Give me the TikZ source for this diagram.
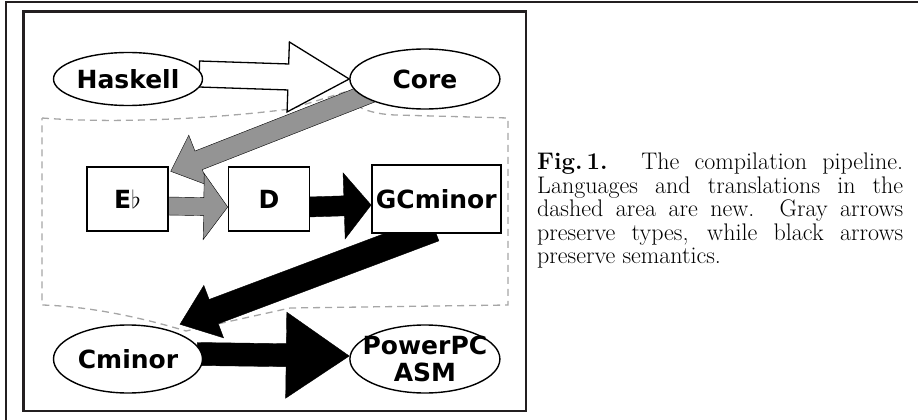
\documentclass[tikz,border=0pt]{standalone}
\usepackage{fontspec}
\usetikzlibrary{arrows.meta, positioning, calc, shapes.geometric}
\newfontfamily\labelfont{DejaVu Sans}
\definecolor{typegray}{gray}{0.58}
\definecolor{framegray}{HTML}{231F20}
\pgfdeclarelayer{background}
\pgfsetlayers{background,main}

% block arrow: [style]{start}{tip}{shaft half width}{head half width}{head length}
\newcommand{\blockarrow}[6][]{%
  \coordinate (ba-base) at ($(#3)!#6!(#2)$);
  \draw[#1] ($(#2)!#4!90:(#3)$) -- ($(ba-base)!#4!90:(#3)$)
    -- ($(ba-base)!#5!90:(#3)$) -- (#3)
    -- ($(ba-base)!#5!-90:(#3)$) -- ($(ba-base)!#4!-90:(#3)$)
    -- ($(#2)!#4!-90:(#3)$) -- cycle;
}
\newcommand{\captionsize}{\fontsize{24}{23.5}\selectfont}

\begin{document}
\begin{tikzpicture}[
  x=1pt, y=-1pt,
  lang/.style = {draw, ellipse, line width=1.4pt, fill=white, inner sep=0pt,
                 minimum width=149pt, align=center,
                 font=\labelfont\bfseries\fontsize{25}{27}\selectfont},
  ir/.style = {draw, rectangle, line width=1.4pt, fill=white, inner sep=0pt,
               minimum width=81pt, minimum height=64pt,
               font=\labelfont\bfseries\fontsize{25}{27}\selectfont},
  outline/.style = {draw, line width=1.3pt, fill=white},
  typed/.style = {fill=typegray},
  semantic/.style = {fill=black},
  newarea/.style = {draw=gray!70, line width=1.3pt, dash pattern=on 7pt off 5pt},
  frame/.style = {draw=framegray, line width=2.6pt},
  caption/.style = {text width=366pt, align=justify, inner sep=0pt}
]
  \useasboundingbox (0,0) rectangle (918,420);

  % frames
  \draw[frame] (6,420) -- (6,2) -- (918,2);
  \draw[frame] (23.5,11.3) rectangle (526,411);

  % languages
  \node[lang, minimum height=53pt] (haskell) at (128,79) {Haskell};
  \node[lang, minimum height=60pt, minimum width=150pt, right=146pt of haskell] (core) {Core};
  \node[ir] (eb) at (127.5,199) {\raisebox{-12pt}{E$\flat$}};
  \node[ir, right=59pt of eb] (d) {D};
  \node[ir, minimum width=129pt, minimum height=68pt, right=61pt of d] (gcminor) {GCminor};
  \node[lang, minimum height=68pt] (cminor) at (128,359) {Cminor};
  \node[lang, minimum height=68pt, minimum width=150pt, inner xsep=-15pt,
        right=146pt of cminor] (powerpc) {PowerPC\\ASM};

  \begin{pgfonlayer}{background}
    % dashed area of the new languages
    \draw[newarea] (42,118) .. controls (120,124) and (220,118) .. (290,109)
      -- (345,92) .. controls (352,108) and (372,114) .. (395,115)
      -- (508,118) -- (508,305) -- (290,308) -- (186,331)
      .. controls (130,314) and (80,306) .. (42,305) -- cycle;

    % translations
    \coordinate (hs-start) at ($(haskell.east)+(-4,-5)$);
    \blockarrow[outline]{hs-start}{core.west}{13pt}{35pt}{61pt}
    \coordinate (core-start) at ($(core.center)+(-52,13)$);
    \coordinate (eb-tip) at ($(eb.north east)+(2,5)$);
    \blockarrow[typed]{core-start}{eb-tip}{10pt}{27pt}{30pt}
    \coordinate (eb-start) at ($(eb.east)+(-2,7)$);
    \coordinate (d-tip) at ($(d.west)+(0,8)$);
    \blockarrow[typed]{eb-start}{d-tip}{9pt}{33pt}{24pt}
    \coordinate (d-start) at ($(d.east)+(-2,8)$);
    \coordinate (gc-tip) at ($(gcminor.west)+(0,6)$);
    \blockarrow[semantic]{d-start}{gc-tip}{10pt}{33pt}{27pt}
    \coordinate (gc-start) at ($(gcminor.south)+(-2,-5)$);
    \coordinate (cm-tip) at ($(cminor.north)+(52,0)$);
    \blockarrow[semantic]{gc-start}{cm-tip}{13pt}{28pt}{36pt}
    \coordinate (cm-start) at ($(cminor.east)+(-6,-5)$);
    \coordinate (ppc-tip) at ($(powerpc.west)+(0,-3)$);
    \blockarrow[semantic]{cm-start}{ppc-tip}{11.5pt}{43pt}{63pt}
  \end{pgfonlayer}

  % caption
  \node[caption, anchor=north west] (caption) at (537,153)
    {\captionsize\textbf{Fig.\,1.} The compilation pipeline.\linebreak
     Languages and translations in the\linebreak
     dashed area are new. Gray arrows\linebreak
     preserve types, while black arrows\linebreak
     preserve semantics.\par};
\end{tikzpicture}
\end{document}
